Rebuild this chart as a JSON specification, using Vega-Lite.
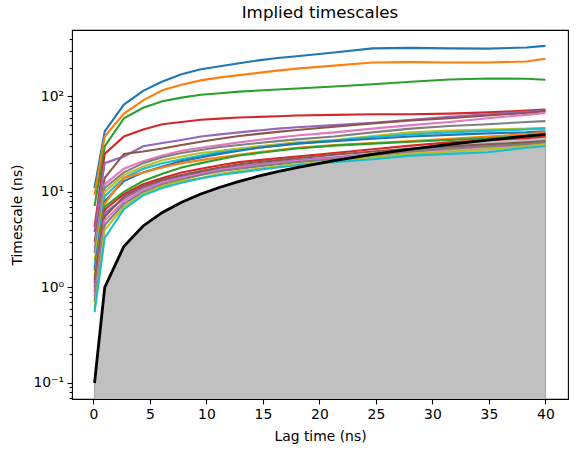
{
  "$schema": "https://vega.github.io/schema/vega-lite/v6.json",
  "autosize": {"type": "none"},
  "padding": {"left": 72, "top": 30, "right": 10, "bottom": 54},
  "width": 496,
  "height": 369,
  "config": {
    "font": "DejaVu Sans",
    "view": {"stroke": "black", "strokeWidth": 1.1},
    "axis": {"grid": false, "domain": false, "tickColor": "black", "labelColor": "black", "titleColor": "black", "labelFont": "DejaVu Sans", "titleFont": "DejaVu Sans", "labelFontSize": 13.9, "titleFontSize": 13.9, "titleFontWeight": "normal", "tickWidth": 1.1}
  },
  "title": {"text": "Implied timescales", "fontSize": 16.7, "fontWeight": "normal", "color": "black", "offset": 8, "anchor": "middle"},
  "datasets": {
    "lagtime": [
      {"x": 0.1, "y": 0.1}, {"x": 1, "y": 1}, {"x": 2.7, "y": 2.7}, {"x": 4.4, "y": 4.4}, {"x": 6.1, "y": 6.1},
      {"x": 7.8, "y": 7.8}, {"x": 9.5, "y": 9.5}, {"x": 11.2, "y": 11.2}, {"x": 12.9, "y": 12.9}, {"x": 14.6, "y": 14.6},
      {"x": 16.3, "y": 16.3}, {"x": 18, "y": 18}, {"x": 21.3, "y": 21.3}, {"x": 24.7, "y": 24.7}, {"x": 28.1, "y": 28.1},
      {"x": 31.5, "y": 31.5}, {"x": 34.9, "y": 34.9}, {"x": 38.3, "y": 38.3}, {"x": 40, "y": 40}
    ],
    "timescales": [
      {"s":"t01","x":0.1,"y":11},{"s":"t01","x":1,"y":43},{"s":"t01","x":2.7,"y":82},{"s":"t01","x":4.4,"y":114},{"s":"t01","x":6.1,"y":143},{"s":"t01","x":7.8,"y":170},{"s":"t01","x":9.5,"y":192},{"s":"t01","x":11.2,"y":207},{"s":"t01","x":12.9,"y":222},{"s":"t01","x":14.6,"y":238},{"s":"t01","x":16.3,"y":252},{"s":"t01","x":18,"y":263},{"s":"t01","x":21.3,"y":288},{"s":"t01","x":24.7,"y":318},{"s":"t01","x":28.1,"y":322},{"s":"t01","x":31.5,"y":318},{"s":"t01","x":34.9,"y":316},{"s":"t01","x":38.3,"y":325},{"s":"t01","x":40,"y":338},
      {"s":"t02","x":0.1,"y":9.3},{"s":"t02","x":1,"y":38},{"s":"t02","x":2.7,"y":66},{"s":"t02","x":4.4,"y":91},{"s":"t02","x":6.1,"y":116},{"s":"t02","x":7.8,"y":132},{"s":"t02","x":9.5,"y":147},{"s":"t02","x":11.2,"y":158},{"s":"t02","x":12.9,"y":167},{"s":"t02","x":14.6,"y":176},{"s":"t02","x":16.3,"y":186},{"s":"t02","x":18,"y":195},{"s":"t02","x":21.3,"y":210},{"s":"t02","x":24.7,"y":226},{"s":"t02","x":28.1,"y":228},{"s":"t02","x":31.5,"y":226},{"s":"t02","x":34.9,"y":226},{"s":"t02","x":38.3,"y":232},{"s":"t02","x":40,"y":248},
      {"s":"t03","x":0.1,"y":7.1},{"s":"t03","x":1,"y":30},{"s":"t03","x":2.7,"y":59},{"s":"t03","x":4.4,"y":76},{"s":"t03","x":6.1,"y":89},{"s":"t03","x":7.8,"y":97},{"s":"t03","x":9.5,"y":104},{"s":"t03","x":11.2,"y":108},{"s":"t03","x":12.9,"y":112},{"s":"t03","x":14.6,"y":115},{"s":"t03","x":16.3,"y":118},{"s":"t03","x":18,"y":121},{"s":"t03","x":21.3,"y":127},{"s":"t03","x":24.7,"y":134},{"s":"t03","x":28.1,"y":142},{"s":"t03","x":31.5,"y":150},{"s":"t03","x":34.9,"y":154},{"s":"t03","x":38.3,"y":153},{"s":"t03","x":40,"y":149},
      {"s":"t04","x":0.1,"y":4.3},{"s":"t04","x":1,"y":25},{"s":"t04","x":2.7,"y":38},{"s":"t04","x":4.4,"y":45},{"s":"t04","x":6.1,"y":51},{"s":"t04","x":7.8,"y":54},{"s":"t04","x":9.5,"y":57},{"s":"t04","x":11.2,"y":58.5},{"s":"t04","x":12.9,"y":60},{"s":"t04","x":14.6,"y":61},{"s":"t04","x":16.3,"y":62},{"s":"t04","x":18,"y":63},{"s":"t04","x":21.3,"y":64},{"s":"t04","x":24.7,"y":65},{"s":"t04","x":28.1,"y":65},{"s":"t04","x":31.5,"y":66},{"s":"t04","x":34.9,"y":68},{"s":"t04","x":38.3,"y":71},{"s":"t04","x":40,"y":73},
      {"s":"t05","x":0.1,"y":3.8},{"s":"t05","x":1,"y":20},{"s":"t05","x":2.7,"y":23.5},{"s":"t05","x":4.4,"y":30},{"s":"t05","x":6.1,"y":32.5},{"s":"t05","x":7.8,"y":35},{"s":"t05","x":9.5,"y":38},{"s":"t05","x":11.2,"y":40},{"s":"t05","x":12.9,"y":42},{"s":"t05","x":14.6,"y":44},{"s":"t05","x":16.3,"y":46},{"s":"t05","x":18,"y":47.5},{"s":"t05","x":21.3,"y":50},{"s":"t05","x":24.7,"y":53},{"s":"t05","x":28.1,"y":57},{"s":"t05","x":31.5,"y":61},{"s":"t05","x":34.9,"y":65},{"s":"t05","x":38.3,"y":69},{"s":"t05","x":40,"y":71},
      {"s":"t06","x":0.1,"y":3.0},{"s":"t06","x":1,"y":14},{"s":"t06","x":2.7,"y":25},{"s":"t06","x":4.4,"y":26.5},{"s":"t06","x":6.1,"y":28.5},{"s":"t06","x":7.8,"y":31},{"s":"t06","x":9.5,"y":33.5},{"s":"t06","x":11.2,"y":36},{"s":"t06","x":12.9,"y":38.5},{"s":"t06","x":14.6,"y":40.5},{"s":"t06","x":16.3,"y":42.5},{"s":"t06","x":18,"y":44.5},{"s":"t06","x":21.3,"y":48},{"s":"t06","x":24.7,"y":52},{"s":"t06","x":28.1,"y":56},{"s":"t06","x":31.5,"y":59},{"s":"t06","x":34.9,"y":63},{"s":"t06","x":38.3,"y":67},{"s":"t06","x":40,"y":70},
      {"s":"t07","x":0.1,"y":2.6},{"s":"t07","x":1,"y":12},{"s":"t07","x":2.7,"y":17.5},{"s":"t07","x":4.4,"y":21},{"s":"t07","x":6.1,"y":24},{"s":"t07","x":7.8,"y":27},{"s":"t07","x":9.5,"y":29},{"s":"t07","x":11.2,"y":31},{"s":"t07","x":12.9,"y":33},{"s":"t07","x":14.6,"y":35},{"s":"t07","x":16.3,"y":37},{"s":"t07","x":18,"y":39},{"s":"t07","x":21.3,"y":42},{"s":"t07","x":24.7,"y":46},{"s":"t07","x":28.1,"y":50},{"s":"t07","x":31.5,"y":54},{"s":"t07","x":34.9,"y":59},{"s":"t07","x":38.3,"y":64},{"s":"t07","x":40,"y":67},
      {"s":"t08","x":0.1,"y":2.3},{"s":"t08","x":1,"y":11},{"s":"t08","x":2.7,"y":16},{"s":"t08","x":4.4,"y":20},{"s":"t08","x":6.1,"y":23},{"s":"t08","x":7.8,"y":25.5},{"s":"t08","x":9.5,"y":27.5},{"s":"t08","x":11.2,"y":29.5},{"s":"t08","x":12.9,"y":31},{"s":"t08","x":14.6,"y":32.5},{"s":"t08","x":16.3,"y":34},{"s":"t08","x":18,"y":35.5},{"s":"t08","x":21.3,"y":38},{"s":"t08","x":24.7,"y":42},{"s":"t08","x":28.1,"y":46},{"s":"t08","x":31.5,"y":49},{"s":"t08","x":34.9,"y":51},{"s":"t08","x":38.3,"y":54},{"s":"t08","x":40,"y":55},
      {"s":"t09","x":0.1,"y":1.9},{"s":"t09","x":1,"y":10},{"s":"t09","x":2.7,"y":15},{"s":"t09","x":4.4,"y":18.5},{"s":"t09","x":6.1,"y":21.5},{"s":"t09","x":7.8,"y":23.5},{"s":"t09","x":9.5,"y":25.5},{"s":"t09","x":11.2,"y":27},{"s":"t09","x":12.9,"y":28.5},{"s":"t09","x":14.6,"y":30},{"s":"t09","x":16.3,"y":31.5},{"s":"t09","x":18,"y":33},{"s":"t09","x":21.3,"y":35},{"s":"t09","x":24.7,"y":38.5},{"s":"t09","x":28.1,"y":42},{"s":"t09","x":31.5,"y":44},{"s":"t09","x":34.9,"y":45},{"s":"t09","x":38.3,"y":46},{"s":"t09","x":40,"y":47},
      {"s":"t10","x":0.1,"y":1.6},{"s":"t10","x":1,"y":9},{"s":"t10","x":2.7,"y":14},{"s":"t10","x":4.4,"y":17.5},{"s":"t10","x":6.1,"y":20},{"s":"t10","x":7.8,"y":22},{"s":"t10","x":9.5,"y":24},{"s":"t10","x":11.2,"y":26},{"s":"t10","x":12.9,"y":27.5},{"s":"t10","x":14.6,"y":29},{"s":"t10","x":16.3,"y":30.5},{"s":"t10","x":18,"y":32},{"s":"t10","x":21.3,"y":34.5},{"s":"t10","x":24.7,"y":37.5},{"s":"t10","x":28.1,"y":40},{"s":"t10","x":31.5,"y":42},{"s":"t10","x":34.9,"y":43.5},{"s":"t10","x":38.3,"y":45},{"s":"t10","x":40,"y":46},
      {"s":"t11","x":0.1,"y":1.5},{"s":"t11","x":1,"y":8},{"s":"t11","x":2.7,"y":13},{"s":"t11","x":4.4,"y":16},{"s":"t11","x":6.1,"y":18.5},{"s":"t11","x":7.8,"y":21},{"s":"t11","x":9.5,"y":23},{"s":"t11","x":11.2,"y":25},{"s":"t11","x":12.9,"y":27},{"s":"t11","x":14.6,"y":29},{"s":"t11","x":16.3,"y":30.5},{"s":"t11","x":18,"y":32},{"s":"t11","x":21.3,"y":34},{"s":"t11","x":24.7,"y":36},{"s":"t11","x":28.1,"y":38},{"s":"t11","x":31.5,"y":39.5},{"s":"t11","x":34.9,"y":41},{"s":"t11","x":38.3,"y":42},{"s":"t11","x":40,"y":43},
      {"s":"t12","x":0.1,"y":1.3},{"s":"t12","x":1,"y":7.5},{"s":"t12","x":2.7,"y":14},{"s":"t12","x":4.4,"y":16},{"s":"t12","x":6.1,"y":18},{"s":"t12","x":7.8,"y":20},{"s":"t12","x":9.5,"y":21.5},{"s":"t12","x":11.2,"y":23},{"s":"t12","x":12.9,"y":24.5},{"s":"t12","x":14.6,"y":26},{"s":"t12","x":16.3,"y":27.5},{"s":"t12","x":18,"y":29},{"s":"t12","x":21.3,"y":31},{"s":"t12","x":24.7,"y":32.5},{"s":"t12","x":28.1,"y":34},{"s":"t12","x":31.5,"y":36},{"s":"t12","x":34.9,"y":38},{"s":"t12","x":38.3,"y":40},{"s":"t12","x":40,"y":42},
      {"s":"t13","x":0.1,"y":1.2},{"s":"t13","x":1,"y":7},{"s":"t13","x":2.7,"y":10},{"s":"t13","x":4.4,"y":13},{"s":"t13","x":6.1,"y":15.5},{"s":"t13","x":7.8,"y":18},{"s":"t13","x":9.5,"y":20},{"s":"t13","x":11.2,"y":22},{"s":"t13","x":12.9,"y":24},{"s":"t13","x":14.6,"y":25.5},{"s":"t13","x":16.3,"y":27},{"s":"t13","x":18,"y":28.5},{"s":"t13","x":21.3,"y":30.5},{"s":"t13","x":24.7,"y":32},{"s":"t13","x":28.1,"y":33.5},{"s":"t13","x":31.5,"y":35},{"s":"t13","x":34.9,"y":36.5},{"s":"t13","x":38.3,"y":38.5},{"s":"t13","x":40,"y":40},
      {"s":"t14","x":0.1,"y":1.1},{"s":"t14","x":1,"y":6.5},{"s":"t14","x":2.7,"y":9.5},{"s":"t14","x":4.4,"y":12},{"s":"t14","x":6.1,"y":14},{"s":"t14","x":7.8,"y":16},{"s":"t14","x":9.5,"y":17.5},{"s":"t14","x":11.2,"y":19},{"s":"t14","x":12.9,"y":20.5},{"s":"t14","x":14.6,"y":21.5},{"s":"t14","x":16.3,"y":22.5},{"s":"t14","x":18,"y":23.5},{"s":"t14","x":21.3,"y":25.5},{"s":"t14","x":24.7,"y":28},{"s":"t14","x":28.1,"y":30.5},{"s":"t14","x":31.5,"y":33},{"s":"t14","x":34.9,"y":35},{"s":"t14","x":38.3,"y":36.5},{"s":"t14","x":40,"y":38},
      {"s":"t15","x":0.1,"y":1.0},{"s":"t15","x":1,"y":6},{"s":"t15","x":2.7,"y":8.5},{"s":"t15","x":4.4,"y":11},{"s":"t15","x":6.1,"y":13},{"s":"t15","x":7.8,"y":14.5},{"s":"t15","x":9.5,"y":16},{"s":"t15","x":11.2,"y":17.5},{"s":"t15","x":12.9,"y":18.5},{"s":"t15","x":14.6,"y":19.5},{"s":"t15","x":16.3,"y":20.5},{"s":"t15","x":18,"y":21.5},{"s":"t15","x":21.3,"y":23},{"s":"t15","x":24.7,"y":25},{"s":"t15","x":28.1,"y":27.5},{"s":"t15","x":31.5,"y":29.5},{"s":"t15","x":34.9,"y":31},{"s":"t15","x":38.3,"y":32},{"s":"t15","x":40,"y":33},
      {"s":"t16","x":0.1,"y":0.9},{"s":"t16","x":1,"y":5.5},{"s":"t16","x":2.7,"y":9},{"s":"t16","x":4.4,"y":11.5},{"s":"t16","x":6.1,"y":13.5},{"s":"t16","x":7.8,"y":15},{"s":"t16","x":9.5,"y":16.5},{"s":"t16","x":11.2,"y":18},{"s":"t16","x":12.9,"y":19.5},{"s":"t16","x":14.6,"y":20.5},{"s":"t16","x":16.3,"y":21.5},{"s":"t16","x":18,"y":22.5},{"s":"t16","x":21.3,"y":24.5},{"s":"t16","x":24.7,"y":26.5},{"s":"t16","x":28.1,"y":28.5},{"s":"t16","x":31.5,"y":30},{"s":"t16","x":34.9,"y":31.5},{"s":"t16","x":38.3,"y":33},{"s":"t16","x":40,"y":34},
      {"s":"t17","x":0.1,"y":0.8},{"s":"t17","x":1,"y":5},{"s":"t17","x":2.7,"y":8},{"s":"t17","x":4.4,"y":10.5},{"s":"t17","x":6.1,"y":12.5},{"s":"t17","x":7.8,"y":14},{"s":"t17","x":9.5,"y":15.5},{"s":"t17","x":11.2,"y":17},{"s":"t17","x":12.9,"y":18},{"s":"t17","x":14.6,"y":19},{"s":"t17","x":16.3,"y":20},{"s":"t17","x":18,"y":21},{"s":"t17","x":21.3,"y":22.5},{"s":"t17","x":24.7,"y":24.5},{"s":"t17","x":28.1,"y":26.5},{"s":"t17","x":31.5,"y":28},{"s":"t17","x":34.9,"y":29.5},{"s":"t17","x":38.3,"y":31},{"s":"t17","x":40,"y":32},
      {"s":"t18","x":0.1,"y":0.7},{"s":"t18","x":1,"y":4.5},{"s":"t18","x":2.7,"y":7.5},{"s":"t18","x":4.4,"y":10},{"s":"t18","x":6.1,"y":12},{"s":"t18","x":7.8,"y":13.5},{"s":"t18","x":9.5,"y":15},{"s":"t18","x":11.2,"y":16.5},{"s":"t18","x":12.9,"y":17.5},{"s":"t18","x":14.6,"y":18.5},{"s":"t18","x":16.3,"y":19.5},{"s":"t18","x":18,"y":20.5},{"s":"t18","x":21.3,"y":22},{"s":"t18","x":24.7,"y":24},{"s":"t18","x":28.1,"y":26.5},{"s":"t18","x":31.5,"y":28.5},{"s":"t18","x":34.9,"y":30},{"s":"t18","x":38.3,"y":31.5},{"s":"t18","x":40,"y":33},
      {"s":"t19","x":0.1,"y":0.6},{"s":"t19","x":1,"y":4},{"s":"t19","x":2.7,"y":7},{"s":"t19","x":4.4,"y":9.5},{"s":"t19","x":6.1,"y":11.5},{"s":"t19","x":7.8,"y":13},{"s":"t19","x":9.5,"y":14},{"s":"t19","x":11.2,"y":15.5},{"s":"t19","x":12.9,"y":16.5},{"s":"t19","x":14.6,"y":17.5},{"s":"t19","x":16.3,"y":18.5},{"s":"t19","x":18,"y":19.5},{"s":"t19","x":21.3,"y":21},{"s":"t19","x":24.7,"y":23},{"s":"t19","x":28.1,"y":25},{"s":"t19","x":31.5,"y":26.5},{"s":"t19","x":34.9,"y":28},{"s":"t19","x":38.3,"y":30},{"s":"t19","x":40,"y":31.5},
      {"s":"t20","x":0.1,"y":0.55},{"s":"t20","x":1,"y":3.3},{"s":"t20","x":2.7,"y":6.6},{"s":"t20","x":4.4,"y":9.2},{"s":"t20","x":6.1,"y":11},{"s":"t20","x":7.8,"y":12.5},{"s":"t20","x":9.5,"y":13.8},{"s":"t20","x":11.2,"y":15},{"s":"t20","x":12.9,"y":16},{"s":"t20","x":14.6,"y":17},{"s":"t20","x":16.3,"y":18},{"s":"t20","x":18,"y":19},{"s":"t20","x":21.3,"y":20.5},{"s":"t20","x":24.7,"y":22},{"s":"t20","x":28.1,"y":24},{"s":"t20","x":31.5,"y":25},{"s":"t20","x":34.9,"y":26},{"s":"t20","x":38.3,"y":29},{"s":"t20","x":40,"y":30}
    ]
  },
  "encoding": {
    "x": {
      "field": "x", "type": "quantitative",
      "scale": {"domain": [-1.895, 41.995], "nice": false, "zero": false},
      "axis": {"title": "Lag time (ns)", "values": [0, 5, 10, 15, 20, 25, 30, 35, 40], "tickSize": 4.9, "labelPadding": 3.5, "titleY": 37, "titleBaseline": "middle", "labelFlush": false}
    },
    "y": {
      "field": "y", "type": "quantitative",
      "scale": {"type": "log", "domain": [0.068, 495], "nice": false},
      "axis": {
        "title": "Timescale (ns)",
        "values": [0.07, 0.08, 0.09, 0.1, 0.2, 0.3, 0.4, 0.5, 0.6, 0.7, 0.8, 0.9, 1, 2, 3, 4, 5, 6, 7, 8, 9, 10, 20, 30, 40, 50, 60, 70, 80, 90, 100, 200, 300, 400],
        "labelExpr": "datum.value == 0.1 ? '10⁻¹' : datum.value == 1 ? '10⁰' : datum.value == 10 ? '10¹' : datum.value == 100 ? '10²' : ''",
        "tickSize": {"condition": {"test": "indexof([0.1, 1, 10, 100], datum.value) >= 0", "value": 4.9}, "value": 2.8},
        "labelPadding": 3.5,
        "labelFlush": false,
        "labelOverlap": false,
        "titleX": -55, "titleBaseline": "middle"
      }
    }
  },
  "layer": [
    {
      "data": {"name": "lagtime"},
      "mark": {"type": "area", "color": "#c0c0c0", "stroke": "#a0a0a0", "strokeWidth": 1, "opacity": 1, "clip": true},
      "encoding": {"y2": {"datum": 0.01}}
    },
    {
      "data": {"name": "timescales"},
      "mark": {"type": "line", "strokeWidth": 2.1, "clip": true},
      "encoding": {
        "color": {
          "field": "s", "type": "nominal", "legend": null,
          "scale": {
            "domain": ["t01","t02","t03","t04","t05","t06","t07","t08","t09","t10","t11","t12","t13","t14","t15","t16","t17","t18","t19","t20"],
            "range": ["#1f77b4","#ff7f0e","#2ca02c","#d62728","#9467bd","#8c564b","#e377c2","#7f7f7f","#bcbd22","#17becf","#1f77b4","#ff7f0e","#2ca02c","#d62728","#9467bd","#8c564b","#e377c2","#7f7f7f","#bcbd22","#17becf"]
          }
        }
      }
    },
    {
      "data": {"name": "lagtime"},
      "mark": {"type": "line", "color": "black", "strokeWidth": 2.8, "clip": true},
      "encoding": {}
    }
  ]
}
